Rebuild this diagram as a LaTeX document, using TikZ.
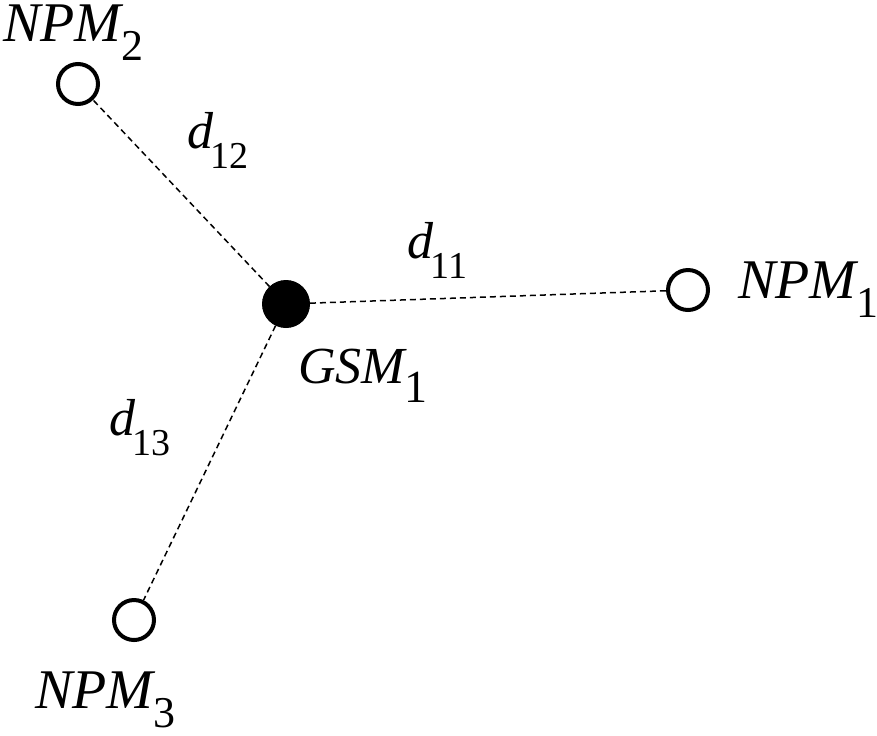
\documentclass[tikz,border=0pt]{standalone}
\usepackage{fontspec}
\setmainfont{Liberation Serif}
% #1 main size, #2 sub size, #3 drop, #4 text, #5 subscript
\newcommand\lbl[5]{{\fontsize{#1}{#1}\selectfont\textit{#4}}\kern-1.5pt\raisebox{-#3}{\fontsize{#2}{#2}\selectfont #5}}
\newcommand\npm[1]{\lbl{28}{22}{9.5pt}{NPM}{#1}}
\newcommand\dd[1]{\lbl{26}{19}{10pt}{d}{#1}}
\tikzset{
  open/.style={circle,draw,line width=2pt,minimum size=20pt,inner sep=0pt},
  full/.style={circle,fill,draw,line width=0.5pt,minimum size=23.5pt,inner sep=0pt},
  link/.style={dashed,dash pattern=on 3pt off 2pt,line width=0.75pt},
  txt/.style={anchor=base west,inner sep=0pt}
}
\begin{document}
\begin{tikzpicture}[x=0.5pt,y=-0.5pt]
\useasboundingbox (0,0) rectangle (877,735);
\node[full] (g) at (286,304) {};
\node[open] (n2) at (78,84) {};
\node[open] (n1) at (688,290) {};
\node[open] (n3) at (134,620) {};
\draw[link] (g) -- (n2);
\draw[link] (g) -- (n1);
\draw[link] (g) -- (n3);
\node[txt] (t2) at (3,41) {\npm{2}};
\node[txt] (t1) at (738,298) {\npm{1}};
\node[txt] (t3) at (35,708) {\npm{3}};
\node[txt] (tg) at (298,383) {\lbl{26}{23}{9.5pt}{GSM}{1}};
\node[txt] (d12) at (187,148) {\dd{12}};
\node[txt] (d11) at (407,258) {\dd{11}};
\node[txt] (d13) at (109,435) {\dd{13}};
\end{tikzpicture}
\end{document}
